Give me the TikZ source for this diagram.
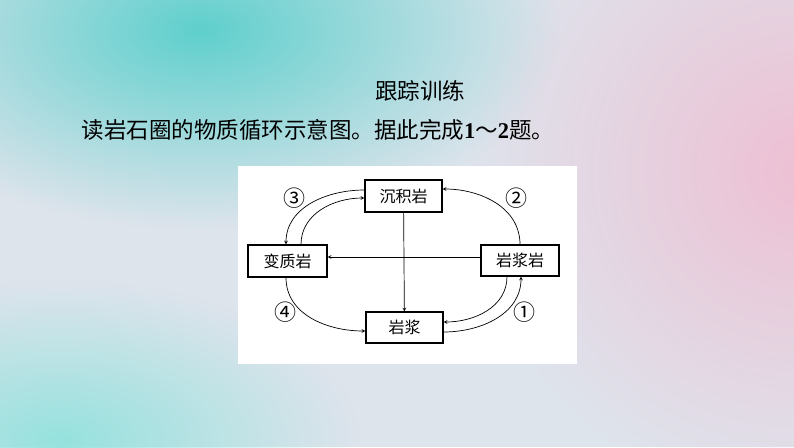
\documentclass[tikz,border=0pt]{standalone}
\usepackage{fontspec}
\setmainfont{Noto Sans CJK SC}
\newfontfamily\numfont{Liberation Serif}
\usepackage{xcolor}
\usetikzlibrary{fadings}
\definecolor{bgbase}{RGB}{222,228,236}
\definecolor{bgteal}{RGB}{95,208,205}
\definecolor{bgtealb}{RGB}{150,226,222}
\definecolor{bgpink}{RGB}{238,192,212}
\tikzfading[name=softout,inner color=transparent!0,outer color=transparent!100]

\begin{document}
\begin{tikzpicture}[x=1pt,y=-1pt,
    rockbox/.style={draw,line width=1.2pt,fill=white,minimum width=77pt,minimum height=32pt,font=\fontsize{16}{16}\selectfont},
    flow/.style={-stealth,line width=0.7pt},
    steplabel/.style={font=\fontsize{22}{22}\selectfont,inner sep=0pt}]
        \useasboundingbox (0,0) rectangle (794,447);
        % background
        \fill[bgbase] (0,0) rectangle (794,447);
        \fill[bgtealb,path fading=softout] (60,440) ellipse [x radius=300,y radius=160];
        \fill[bgteal,path fading=softout] (200,30) ellipse [x radius=360,y radius=200];
        \fill[bgpink,path fading=softout] (800,170) ellipse [x radius=330,y radius=330];

        % text above the diagram
        \node (title) at (420,91) {\fontsize{22.5}{22.5}\selectfont 跟踪训练};
        \node[anchor=west] (task) at (78,130) {\fontsize{22.5}{22.5}\selectfont 读岩石圈的物质循环示意图。据此完成{\numfont\bfseries 1}～{\numfont\bfseries 2}题。};

        % diagram panel
        \fill[white] (238,166) rectangle (577,364);

        \node[rockbox] (sed) at (403.5,196) {沉积岩};
        \node[rockbox,minimum width=79pt] (meta) at (287.5,261) {变质岩};
        \node[rockbox,minimum width=78pt,minimum height=31pt] (ign) at (520,260.5) {岩浆岩};
        \node[rockbox,minimum height=31pt] (mag) at (404.5,327.5) {岩浆};

        \draw[flow] (sed) -- (mag);
        \draw[flow] ([yshift=3.5pt]ign.west) -- ([yshift=4pt]meta.east);
        \draw[flow] (ign.north) to[out=90,in=0] ([yshift=7pt]sed.east);
        \draw[flow] ([yshift=6pt]sed.west) to[out=180,in=90] ([xshift=-1.5pt]meta.north);
        \draw[flow] ([xshift=13.5pt]meta.north) to[out=90,in=180] ([yshift=-2pt]sed.west);
        \draw[flow] ([xshift=-1.5pt]meta.south) to[out=-90,in=180] ([yshift=-3.5pt]mag.west);
        \draw[flow] ([xshift=-13pt]ign.south) to[out=-90,in=0] ([yshift=5.5pt]mag.east);
        \draw[flow] ([yshift=-4.5pt]mag.east) to[out=0,in=-90] ([xshift=1pt]ign.south);

        \node[steplabel] (n3) at (294,198) {③};
        \node[steplabel] (n2) at (516,198) {②};
        \node[steplabel] (n4) at (285,312) {④};
        \node[steplabel] (n1) at (524,312.5) {①};
    \end{tikzpicture}
\end{document}
